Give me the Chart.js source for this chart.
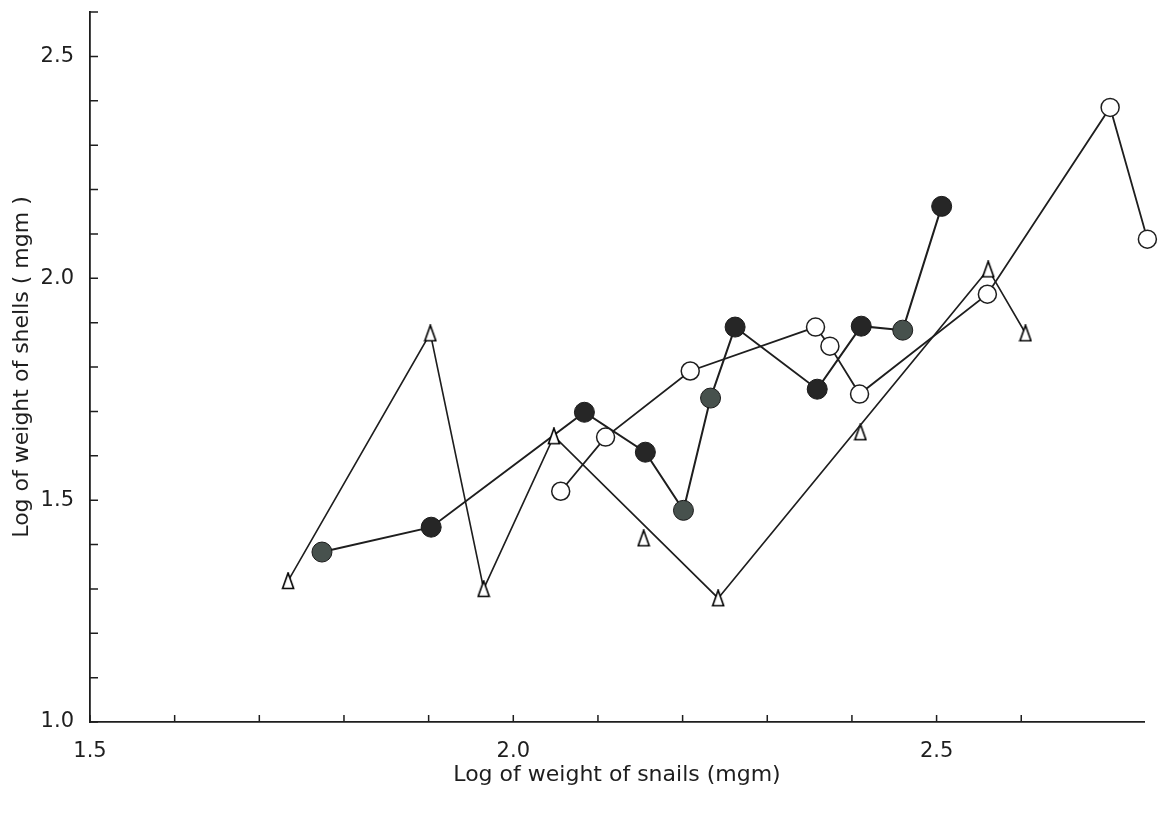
<!DOCTYPE html>
<html>
<head>
<meta charset="utf-8">
<script src="https://cdn.jsdelivr.net/npm/chart.js@4/dist/chart.umd.min.js"></script>
<style>
  html, body { margin: 0; padding: 0; background: #fff; }
  #wrap { width: 1166px; height: 816px; }
</style>
</head>
<body>
<div id="wrap"><canvas id="snailChart" width="1166" height="816"></canvas></div>
<script>
// log weight of snails (x) vs log weight of shells (y)
const triX = [1.734, 1.902, 1.965, 2.048, 2.242, 2.561, 2.605];
const triY = [1.318, 1.876, 1.300, 1.644, 1.279, 2.020, 1.876];

const triLooseX = [2.154, 2.410];
const triLooseY = [1.414, 1.653];

const filledX = [1.774, 1.903, 2.084, 2.156, 2.201, 2.233, 2.262, 2.359, 2.411, 2.460, 2.506];
const filledY = [1.383, 1.439, 1.698, 1.608, 1.477, 1.730, 1.890, 1.750, 1.892, 1.883, 2.162];

const openX = [2.056, 2.109, 2.209, 2.357, 2.374, 2.409, 2.560, 2.705, 2.749];
const openY = [1.520, 1.642, 1.791, 1.890, 1.847, 1.739, 1.964, 2.385, 2.088];

// x and y labelled every 0.5, tick marks every 0.1
const xLabelTicks = [1.5, 2.0, 2.5];
const yLabelTicks = [1.0, 1.5, 2.0, 2.5];

// dots printed in a lighter grey in the original
const greyDots = [0, 4, 5, 9];

function toPoints(xs, ys) {
  return xs.map((x, i) => ({ x: x, y: ys[i] }));
}

const ink = '#1e1e1e';
const font = '"DejaVu Sans", "Noto Sans", sans-serif';

// narrow open triangle used as the point marker
const tri = document.createElement('canvas');
tri.width = 14;
tri.height = 18;
{
  const t = tri.getContext('2d');
  t.beginPath();
  t.moveTo(7, 1);
  t.lineTo(12.5, 16.5);
  t.lineTo(1.5, 16.5);
  t.closePath();
  t.fillStyle = '#fff';
  t.fill();
  t.strokeStyle = '#000';
  t.lineWidth = 1.6;
  t.stroke();
}

// tick marks pointing into the plot, like the printed figure
const inwardTicks = {
  id: 'inwardTicks',
  afterDraw(chart) {
    const c = chart.ctx;
    const xs = chart.scales.x, ys = chart.scales.y;
    c.save();
    c.strokeStyle = ink;
    c.lineWidth = 1.5;
    c.beginPath();
    ys.ticks.forEach(t => {
      if (Math.abs(t.value * 10 - Math.round(t.value * 10)) > 1e-6) return;
      const py = ys.getPixelForValue(t.value);
      c.moveTo(xs.left, py);
      c.lineTo(xs.left + 8, py);
    });
    xs.ticks.forEach(t => {
      if (Math.abs(t.value * 10 - Math.round(t.value * 10)) > 1e-6) return;
      const px = xs.getPixelForValue(t.value);
      c.moveTo(px, ys.bottom);
      c.lineTo(px, ys.bottom - 7);
    });
    c.stroke();
    c.restore();
  }
};

function isLabel(list, v) {
  return list.some(l => Math.abs(l - v) < 1e-6);
}

const ctx = document.getElementById('snailChart').getContext('2d');

const snailChart = new Chart(ctx, {
  type: 'scatter',
  data: {
    datasets: [
      {
        label: 'triangles',
        data: toPoints(triX, triY),
        showLine: true,
        borderColor: ink,
        borderWidth: 1.6,
        pointStyle: tri,
        pointRadius: 9
      },
      {
        label: 'triangles (unjoined)',
        data: toPoints(triLooseX, triLooseY),
        showLine: false,
        pointStyle: tri,
        pointRadius: 9
      },
      {
        label: 'open circles',
        data: toPoints(openX, openY),
        showLine: true,
        borderColor: ink,
        borderWidth: 1.8,
        pointStyle: 'circle',
        pointRadius: 9,
        pointBackgroundColor: '#fff',
        pointBorderColor: ink,
        pointBorderWidth: 1.5
      },
      {
        label: 'filled circles',
        data: toPoints(filledX, filledY),
        showLine: true,
        borderColor: ink,
        borderWidth: 2,
        pointStyle: 'circle',
        pointRadius: 10,
        pointBackgroundColor: c => greyDots.includes(c.dataIndex) ? '#47514d' : '#262626',
        pointBorderColor: '#1a1a1a',
        pointBorderWidth: 1
      }
    ]
  },
  options: {
    responsive: false,
    animation: false,
    layout: { padding: { top: 12, right: 22, left: 0, bottom: 0 } },
    plugins: {
      legend: { display: false },
      tooltip: { enabled: false }
    },
    scales: {
      x: {
        type: 'linear',
        min: 1.5,
        max: 2.745,
        grid: { display: false },
        border: { display: true, color: ink, width: 1.8 },
        ticks: {
          stepSize: 0.1,
          autoSkip: false,
          maxRotation: 0,
          padding: 9,
          color: ink,
          font: { family: font, size: 21 },
          callback: v => isLabel(xLabelTicks, v) ? v.toFixed(1) : ''
        },
        title: {
          display: true,
          text: 'Log of weight of snails (mgm)',
          color: ink,
          font: { family: font, size: 22 },
          padding: { top: 0, bottom: 28 }
        },
        afterFit: s => { s.height = 94; s.paddingLeft = 0; s.paddingRight = 0; }
      },
      y: {
        type: 'linear',
        min: 1.0,
        max: 2.6,
        grid: { display: false },
        border: { display: true, color: ink, width: 1.8 },
        ticks: {
          stepSize: 0.1,
          autoSkip: false,
          padding: 8,
          color: ink,
          font: { family: font, size: 21 },
          callback: v => isLabel(yLabelTicks, v) ? v.toFixed(1) : ''
        },
        title: {
          display: true,
          text: 'Log of weight of shells ( mgm )',
          color: ink,
          font: { family: font, size: 22 },
          padding: { top: 9, bottom: 0 }
        },
        afterFit: s => { s.width = 90; s.paddingTop = 0; s.paddingBottom = 0; }
      }
    },
    elements: { line: { tension: 0 } },
    clip: false
  },
  plugins: [inwardTicks]
});
</script>
</body>
</html>
